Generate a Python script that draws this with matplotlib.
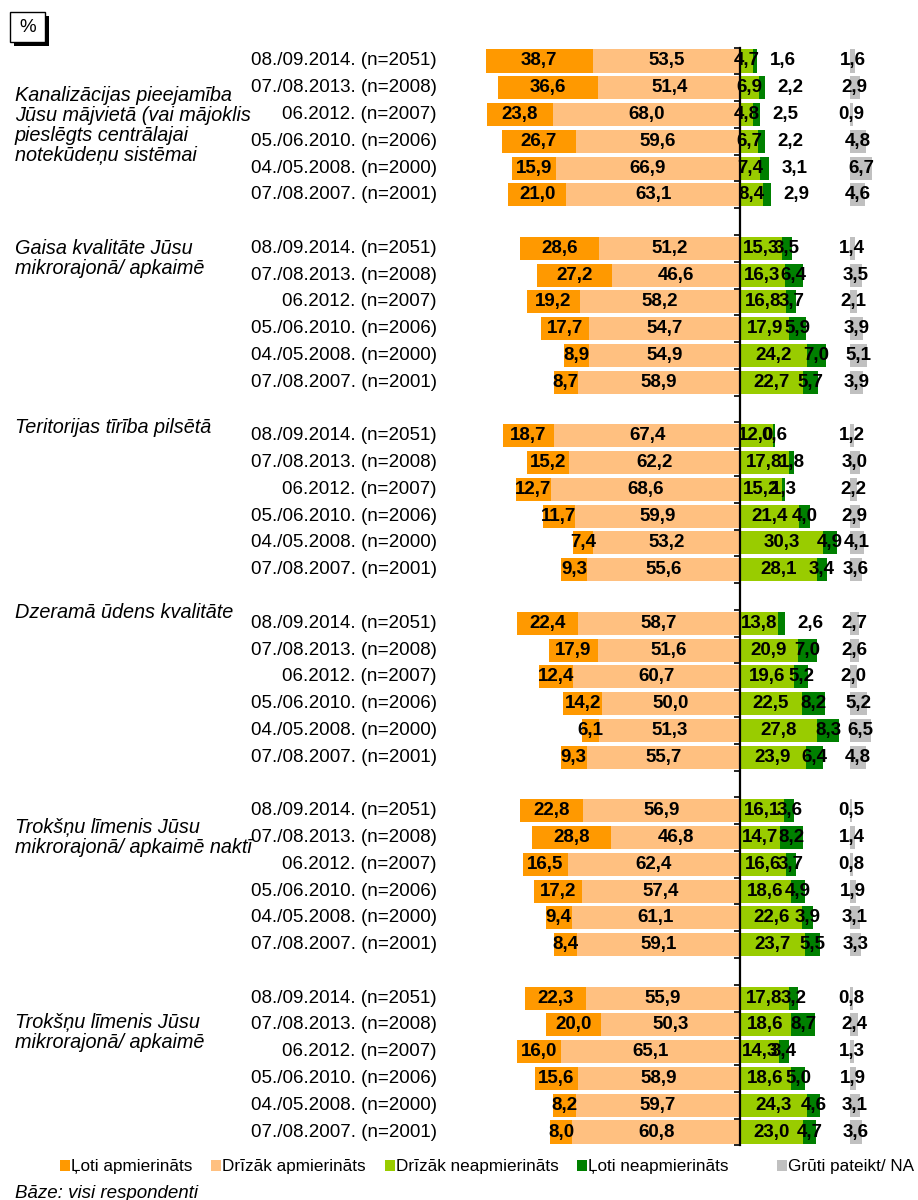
import matplotlib
matplotlib.use('Agg')
import matplotlib.pyplot as plt
import matplotlib.transforms as mtransforms
from matplotlib.patches import Rectangle

plt.rcParams['font.family'] = ['Liberation Sans', 'DejaVu Sans']

# ---------------- data ----------------
titles = [
    "Kanalizācijas pieejamība\nJūsu mājvietā (vai mājoklis\npieslēgts centrālajai\nnotekūdeņu sistēmai",
    "Gaisa kvalitāte Jūsu\nmikrorajonā/ apkaimē",
    "Teritorijas tīrība pilsētā",
    "Dzeramā ūdens kvalitāte",
    "Trokšņu līmenis Jūsu\nmikrorajonā/ apkaimē naktī",
    "Trokšņu līmenis Jūsu\nmikrorajonā/ apkaimē",
]
periods = ["08./09.2014. (n=2051)", "07./08.2013. (n=2008)", "06.2012. (n=2007)",
           "05./06.2010. (n=2006)", "04./05.2008. (n=2000)", "07./08.2007. (n=2001)"]
series_names = ["Ļoti apmierināts", "Drīzāk apmierināts", "Drīzāk neapmierināts",
                "Ļoti neapmierināts", "Grūti pateikt/ NA"]

very_sat = [[38.7, 36.6, 23.8, 26.7, 15.9, 21.0],
            [28.6, 27.2, 19.2, 17.7, 8.9, 8.7],
            [18.7, 15.2, 12.7, 11.7, 7.4, 9.3],
            [22.4, 17.9, 12.4, 14.2, 6.1, 9.3],
            [22.8, 28.8, 16.5, 17.2, 9.4, 8.4],
            [22.3, 20.0, 16.0, 15.6, 8.2, 8.0]]
rather_sat = [[53.5, 51.4, 68.0, 59.6, 66.9, 63.1],
              [51.2, 46.6, 58.2, 54.7, 54.9, 58.9],
              [67.4, 62.2, 68.6, 59.9, 53.2, 55.6],
              [58.7, 51.6, 60.7, 50.0, 51.3, 55.7],
              [56.9, 46.8, 62.4, 57.4, 61.1, 59.1],
              [55.9, 50.3, 65.1, 58.9, 59.7, 60.8]]
rather_unsat = [[4.7, 6.9, 4.8, 6.7, 7.4, 8.4],
                [15.3, 16.3, 16.8, 17.9, 24.2, 22.7],
                [12.0, 17.8, 15.2, 21.4, 30.3, 28.1],
                [13.8, 20.9, 19.6, 22.5, 27.8, 23.9],
                [16.1, 14.7, 16.6, 18.6, 22.6, 23.7],
                [17.8, 18.6, 14.3, 18.6, 24.3, 23.0]]
very_unsat = [[1.6, 2.2, 2.5, 2.2, 3.1, 2.9],
              [3.5, 6.4, 3.7, 5.9, 7.0, 5.7],
              [0.6, 1.8, 1.3, 4.0, 4.9, 3.4],
              [2.6, 7.0, 5.2, 8.2, 8.3, 6.4],
              [3.6, 8.2, 3.7, 4.9, 3.9, 5.5],
              [3.2, 8.7, 3.4, 5.0, 4.6, 4.7]]
dont_know = [[1.6, 2.9, 0.9, 4.8, 6.7, 4.6],
             [1.4, 3.5, 2.1, 3.9, 5.1, 3.9],
             [1.2, 3.0, 2.2, 2.9, 4.1, 3.6],
             [2.7, 2.6, 2.0, 5.2, 6.5, 4.8],
             [0.5, 1.4, 0.8, 1.9, 3.1, 3.3],
             [0.8, 2.4, 1.3, 1.9, 3.1, 3.6]]

# ---------------- style ----------------
colors = ['#FF9900', '#FFC080', '#99CC00', '#008000', '#C0C0C0']
title_offsets = [0.93, -0.35, -0.67, -0.76, 0.27, 0.55]   # row offset of title first line
outside_dg = {(0, 0), (0, 1), (0, 2), (0, 3), (0, 4), (0, 5), (3, 0)}
FS = 13.5
FS_TITLE = 14.3
FS_LEG = 12.3
W, H = 918, 1200

fig = plt.figure(figsize=(W / 100, H / 100), dpi=100)
px = 2.755          # pixels per percent (main bars)
x0 = 740            # pixel of the zero line
px_na = 3.3         # pixels per percent (NA column)
x0_na = 850         # pixel where NA bars start
top_px, bot_px = 47.6, 1145.4
left_px, right_px = x0 - 100 * px, x0 + 60 * px
rect = [left_px / W, 1 - bot_px / H, (right_px - left_px) / W, (bot_px - top_px) / H]
ax = fig.add_axes(rect)
ax.set_xlim(-100, 60)
n_rows = 6 * 6 + 5
ax.set_ylim(n_rows - 0.5, -0.5)

ax2 = fig.add_axes(rect, sharey=ax)
ax2.set_xlim((left_px - x0_na) / px_na, (right_px - x0_na) / px_na)
ax2.axis('off')
ax2.patch.set_alpha(0)

def fmt(v):
    return f"{v:.1f}".replace('.', ',')

bh = 0.86
lab_kw = dict(fontsize=FS, fontweight='bold', va='center', ha='center', color='black', zorder=5)
yfig = mtransforms.blended_transform_factory(fig.transFigure, ax.transData)

for g in range(6):
    for r in range(6):
        y = g * 7 + r
        a, b = very_sat[g][r], rather_sat[g][r]
        c, d, e = rather_unsat[g][r], very_unsat[g][r], dont_know[g][r]
        ax.barh(y, a, left=-(a + b), height=bh, color=colors[0], lw=0)
        ax.barh(y, b, left=-b, height=bh, color=colors[1], lw=0)
        ax.barh(y, c, left=0, height=bh, color=colors[2], lw=0)
        ax.barh(y, d, left=c, height=bh, color=colors[3], lw=0)
        ax2.barh(y, e, left=0, height=bh, color=colors[4], lw=0)
        ax.text(-(a + b) + a / 2, y, fmt(a), **lab_kw)
        ax.text(-b / 2, y, fmt(b), **lab_kw)
        ax.text(c / 2, y, fmt(c), **lab_kw)
        if (g, r) in outside_dg:
            ax.text(c + d + 4.5, y, fmt(d), **{**lab_kw, 'ha': 'left'})
        else:
            ax.text(c + d / 2, y, fmt(d), **lab_kw)
        ax2.text(e / 2, y, fmt(e), **lab_kw)
        ax.text(437 / W, y, periods[r], transform=yfig, ha='right', va='center',
                fontsize=FS, color='black')
    ax.text(15 / W, g * 7 + title_offsets[g], titles[g], transform=yfig, ha='left',
            va='top', fontsize=FS_TITLE, style='italic', linespacing=1.08, color='black')

for s in ['top', 'right', 'bottom']:
    ax.spines[s].set_visible(False)
ax.spines['left'].set_position(('data', 0))
ax.spines['left'].set_linewidth(1.6)
ax.spines['left'].set_zorder(6)
ax.set_xticks([])
ax.set_yticks([k - 0.5 for k in range(n_rows + 1)])
ax.set_yticklabels([])
ax.tick_params(axis='y', direction='out', length=4, width=1.2)
ax.patch.set_alpha(0)

# legend
leg_sq = [60, 211, 385, 577, 777]
for xs, col, name in zip(leg_sq, colors, series_names):
    fig.patches.append(Rectangle((xs / W, 1 - 1171 / H), 10 / W, 11 / H,
                                 transform=fig.transFigure, color=col, lw=0))
    fig.text((xs + 11) / W, 1 - 1166 / H, name, ha='left', va='center', fontsize=FS_LEG)

fig.text(15 / W, 1 - 1193 / H, "Bāze: visi respondenti", ha='left', va='center',
         fontsize=FS, style='italic')

# % box with shadow
fig.patches.append(Rectangle((14 / W, 1 - 46 / H), 35 / W, 30 / H, transform=fig.transFigure,
                             color='black', lw=0))
fig.patches.append(Rectangle((10 / W, 1 - 42 / H), 35 / W, 30 / H, transform=fig.transFigure,
                             facecolor='white', edgecolor='black', lw=1))
fig.text(27.5 / W, 1 - 27 / H, "%", ha='center', va='center', fontsize=FS)

fig.savefig('out.png', dpi=100)
